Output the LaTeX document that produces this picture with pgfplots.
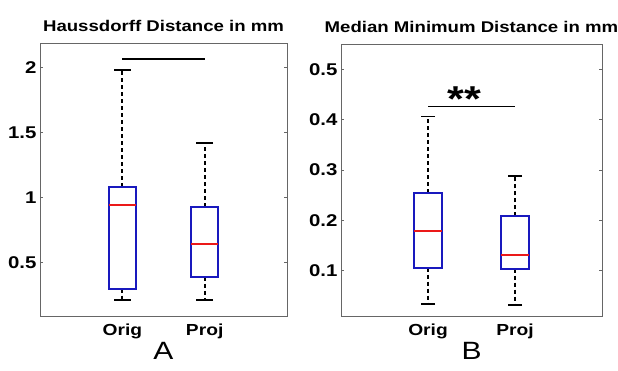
\documentclass[border=0pt]{standalone}
\usepackage{pgfplots}
\pgfplotsset{compat=1.18}
\usepgfplotslibrary{statistics}
\usepackage{fontspec}
\setmainfont{Liberation Sans}[FakeStretch=1.2]
\definecolor{boxblue}{RGB}{25,25,190}
\definecolor{medred}{RGB}{235,25,25}
\pgfplotsset{
  /pgfplots/boxplot/every box/.style={draw=boxblue, line width=2pt},
  /pgfplots/boxplot/every median/.style={draw=medred, line width=2pt},
  /pgfplots/boxplot/every whisker/.style={draw=black, line width=1.9pt, dash pattern=on 4pt off 3pt},
}
\begin{document}
\begin{tikzpicture}[x=1pt,y=1pt]
\pgfplotsset{
  myaxis/.style={
    scale only axis, anchor=south west,
    xmin=0, xmax=3, xtick={1,2}, xticklabels={Orig,Proj},
    xtick style={draw=none},
    axis line style={draw=black!60, line width=0.9pt},
    ytick style={draw=black!60, line width=0.7pt},
    major tick length=3pt,
    tick align=inside, ytick pos=both,
    /pgf/number format/assume math mode=true,
    yticklabel style={font=\fontsize{17}{20}\selectfont\bfseries},
    xticklabel style={font=\fontsize{16}{19}\selectfont\bfseries, yshift=-4pt},
    title style={font=\fontsize{15.5}{18}\selectfont\bfseries, yshift=2pt},
    xlabel style={font=\fontsize{25}{28}\selectfont, yshift=3pt},
  },
  cap/.style={black, only marks, mark=-, mark size=8.5pt, mark options={line width=1.9pt, solid}},
}
\begin{axis}[myaxis, at={(40pt,55pt)}, width=247pt, height=273pt,
  ymin=0.09, ymax=2.19, ytick={0.5,1,1.5,2},
  title={Haussdorff Distance in mm}, xlabel={A}]
\addplot[black, line width=2pt, boxplot prepared={draw direction=y, box extend=0.33, whisker extend=0,
  draw position=1, lower whisker=0.215, lower quartile=0.3,
  median=0.946, upper quartile=1.085, upper whisker=1.98}] coordinates {};
\addplot[black, line width=2pt, boxplot prepared={draw direction=y, box extend=0.33, whisker extend=0,
  draw position=2, lower whisker=0.215, lower quartile=0.39,
  median=0.646, upper quartile=0.93, upper whisker=1.42}] coordinates {};
\addplot[cap] coordinates {(1,0.215) (1,1.98) (2,0.215) (2,1.42)};
\addplot[black, line width=1.9pt] coordinates {(1,2.07) (2,2.07)};
\end{axis}
\begin{axis}[myaxis, at={(341pt,55pt)}, width=261pt, height=272pt,
  ymin=0.01, ymax=0.55, ytick={0.1,0.2,0.3,0.4,0.5},
  title={Median Minimum Distance in mm}, xlabel={B}]
\addplot[black, line width=2pt, boxplot prepared={draw direction=y, box extend=0.33, whisker extend=0,
  draw position=1, lower whisker=0.033, lower quartile=0.106,
  median=0.178, upper quartile=0.255, upper whisker=0.406}] coordinates {};
\addplot[black, line width=2pt, boxplot prepared={draw direction=y, box extend=0.33, whisker extend=0,
  draw position=2, lower whisker=0.031, lower quartile=0.104,
  median=0.132, upper quartile=0.208, upper whisker=0.288}] coordinates {};
\addplot[cap, mark size=7pt] coordinates {(1,0.033) (1,0.406) (2,0.031) (2,0.288)};
\addplot[black, line width=1.9pt] coordinates {(1,0.426) (2,0.426)};
\node[font=\fontsize{36}{36}\selectfont\bfseries, anchor=center] at (axis cs:1.42,0.44) {**};
\end{axis}
\pgfresetboundingbox
\useasboundingbox (0pt,0pt) rectangle (618pt,371pt);
\end{tikzpicture}
\end{document}
